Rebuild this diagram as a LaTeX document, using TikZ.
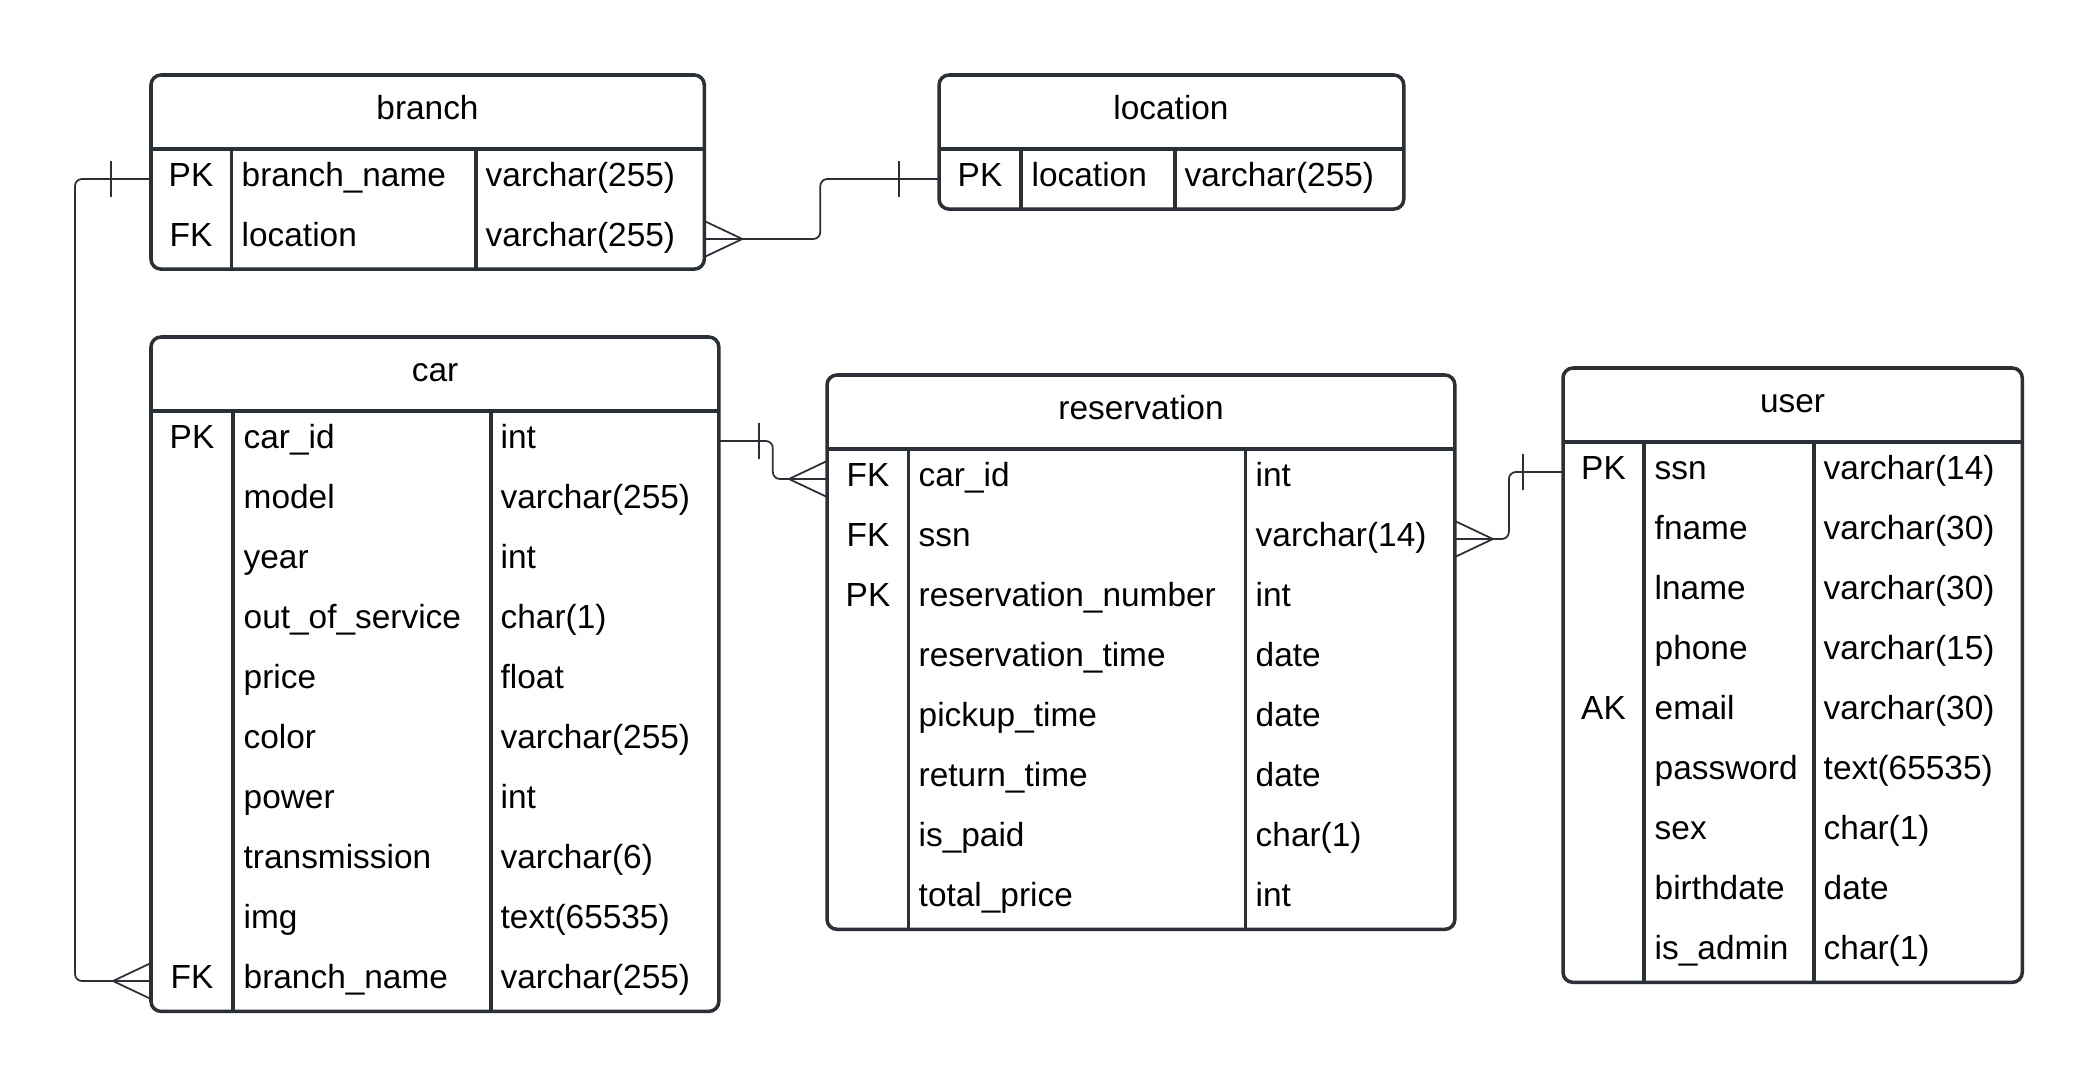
\documentclass[tikz,border=0pt]{standalone}
\usepackage{fontspec}
\setmainfont{Liberation Sans}
\usepackage{tikz}
\usetikzlibrary{positioning,calc}
\definecolor{erdline}{HTML}{2B2F36}
\tikzset{
  crowfoot/.pic={\draw[relmark] (0,-18) -- (38,0) -- (0,18);},
  onebar/.pic={\draw[relmark] (40,-18) -- (40,18);}
}

\begin{document}
\begin{tikzpicture}[
  x=0.01cm, y=-0.01cm,
  font=\fontsize{9.5}{11}\selectfont,
  tablebox/.style={draw=erdline, line width=1pt, rounded corners=0.1cm, anchor=north west, inner sep=0pt, outer sep=0pt, fill=white},
  tabletitle/.style={text height=7pt, text depth=3pt, inner sep=0pt},
  fieldcell/.style={text height=7pt, text depth=3pt, inner sep=0pt},
  divline/.style={draw=erdline, line width=0.9pt},
  relmark/.style={draw=erdline, line width=0.5pt},
  rel/.style={relmark, rounded corners=0.07cm}
]
\fill[white] (0,0) rectangle (2098,1088);
\useasboundingbox (0,0) rectangle (2098,1088);

% branch
\node[tablebox, minimum width=5.53cm, minimum height=1.94cm] (branch) at (151,75) {};
\node[tabletitle] (branch-title) at (427.5,112) {branch};
\draw[divline] (151,149) -- (704,149);
\draw[divline] (231.5,149) -- (231.5,269) (476,149) -- (476,269);
\foreach \k/\n/\t [count=\i] in {PK/branch\_name/varchar(255), FK/location/varchar(255)}{
  \node[fieldcell] (branch-k\i) at (191,{119+60*\i}) {\k};
  \node[fieldcell, anchor=west] (branch-n\i) at (241,{119+60*\i}) {\n};
  \node[fieldcell, anchor=west] (branch-t\i) at (485,{119+60*\i}) {\t};
}

% location
\node[tablebox, minimum width=4.645cm, minimum height=1.34cm] (location) at (939,75) {};
\node[tabletitle] (location-title) at (1171,112) {location};
\draw[divline] (939,149) -- (1403.5,149);
\draw[divline] (1021,149) -- (1021,209) (1175,149) -- (1175,209);
\foreach \k/\n/\t [count=\i] in {PK/location/varchar(255)}{
  \node[fieldcell] (location-k\i) at (980,{119+60*\i}) {\k};
  \node[fieldcell, anchor=west] (location-n\i) at (1031,{119+60*\i}) {\n};
  \node[fieldcell, anchor=west] (location-t\i) at (1184,{119+60*\i}) {\t};
}

% car
\node[tablebox, minimum width=5.675cm, minimum height=6.74cm] (car) at (151,337) {};
\node[tabletitle] (car-title) at (435,374) {car};
\draw[divline] (151,411) -- (718.5,411);
\draw[divline] (233,411) -- (233,1011) (491,411) -- (491,1011);
\foreach \k/\n/\t [count=\i] in {PK/car\_id/int, /model/varchar(255), /year/int, /out\_of\_service/char(1),
    /price/float, /color/varchar(255), /power/int, /transmission/varchar(6), /img/text(65535),
    FK/branch\_name/varchar(255)}{
  \node[fieldcell] (car-k\i) at (192,{381+60*\i}) {\k};
  \node[fieldcell, anchor=west] (car-n\i) at (243,{381+60*\i}) {\n};
  \node[fieldcell, anchor=west] (car-t\i) at (500,{381+60*\i}) {\t};
}

% reservation
\node[tablebox, minimum width=6.275cm, minimum height=5.54cm] (reservation) at (827,375) {};
\node[tabletitle] (reservation-title) at (1141,412) {reservation};
\draw[divline] (827,449) -- (1454.5,449);
\draw[divline] (908.5,449) -- (908.5,929) (1245.5,449) -- (1245.5,929);
\foreach \k/\n/\t [count=\i] in {FK/car\_id/int, FK/ssn/varchar(14), PK/reservation\_number/int,
    /reservation\_time/date, /pickup\_time/date, /return\_time/date, /is\_paid/char(1), /total\_price/int}{
  \node[fieldcell] (reservation-k\i) at (868,{419+60*\i}) {\k};
  \node[fieldcell, anchor=west] (reservation-n\i) at (918,{419+60*\i}) {\n};
  \node[fieldcell, anchor=west] (reservation-t\i) at (1255,{419+60*\i}) {\t};
}

% user
\node[tablebox, minimum width=4.59cm, minimum height=6.14cm] (user) at (1563,368) {};
\node[tabletitle] (user-title) at (1792.5,405) {user};
\draw[divline] (1563,442) -- (2022,442);
\draw[divline] (1644,442) -- (1644,982) (1814,442) -- (1814,982);
\foreach \k/\n/\t [count=\i] in {PK/ssn/varchar(14), /fname/varchar(30), /lname/varchar(30), /phone/varchar(15),
    AK/email/varchar(30), /password/text(65535), /sex/char(1), /birthdate/date, /is\_admin/char(1)}{
  \node[fieldcell] (user-k\i) at (1603.5,{412+60*\i}) {\k};
  \node[fieldcell, anchor=west] (user-n\i) at (1654,{412+60*\i}) {\n};
  \node[fieldcell, anchor=west] (user-t\i) at (1823,{412+60*\i}) {\t};
}

% relations
\draw[rel] (branch.west |- branch-k1) -- ++(-76,0) |- (car.west |- car-k10);
\pic[rotate=180] at (branch.west |- branch-k1) {onebar};
\pic[rotate=180] at (car.west |- car-k10) {crowfoot};

\draw[rel] (branch.east |- branch-k2) -- ++(116,0) |- (location.west |- location-k1);
\pic at (branch.east |- branch-k2) {crowfoot};
\pic[rotate=180] at (location.west |- location-k1) {onebar};

\draw[rel] (car.east |- car-k1) -- ++(54,0) |- (reservation.west |- reservation-k1);
\pic at (car.east |- car-k1) {onebar};
\pic[rotate=180] at (reservation.west |- reservation-k1) {crowfoot};

\draw[rel] (reservation.east |- reservation-k2) -- ++(54,0) |- (user.west |- user-k1);
\pic at (reservation.east |- reservation-k2) {crowfoot};
\pic[rotate=180] at (user.west |- user-k1) {onebar};
\end{tikzpicture}
\end{document}
